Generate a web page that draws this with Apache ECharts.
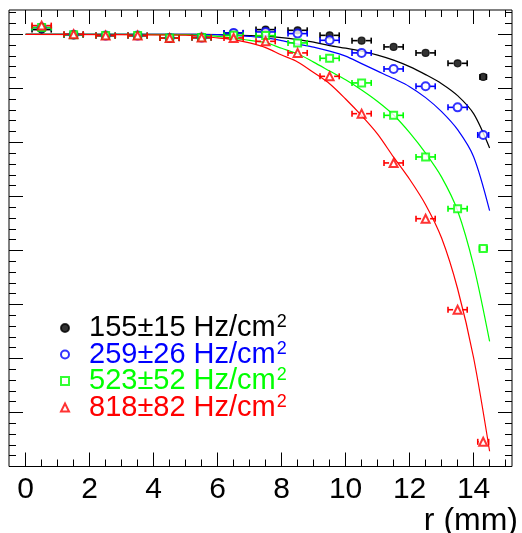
<!DOCTYPE html>
<html><head><meta charset="utf-8">
<script src="https://cdn.jsdelivr.net/npm/echarts@6/dist/echarts.min.js"></script>
<style>html,body{margin:0;padding:0;background:#fff}#c{width:522px;height:533px}</style>
</head><body><div id="c"></div>
<script>
// ---- data ----
const rPoints = [0.5,1.5,2.5,3.5,4.5,5.5,6.5,7.5,8.5,9.5,10.5,11.5,12.5,13.5,14.3];
const errBlack = [0.3,0.3,0.3,0.3,0.3,0.3,0.3,0.3,0.3,0.3,0.3,0.3,0.3,0.3,0.1];
const errBlue  = [0.3,0.3,0.3,0.3,0.3,0.3,0.3,0.3,0.3,0.3,0.3,0.3,0.3,0.3,0.17];
const errGreen = [0.3,0.3,0.3,0.3,0.3,0.3,0.3,0.3,0.3,0.3,0.3,0.3,0.3,0.3,0.12];
const errRed   = [0.3,0.3,0.3,0.3,0.3,0.3,0.3,0.3,0.3,0.3,0.3,0.3,0.3,0.3,0.17];
const valBlack = [1.0087,0.9994,0.9976,0.9976,0.993,0.9939,1.0026,1.0087,1.0074,0.9981,0.9883,0.9767,0.9656,0.9463,0.9211];
const valBlue  = [1.0124,0.9994,0.9976,0.9976,0.993,0.9939,1.0026,1.0044,1.0013,0.9889,0.9656,0.9359,0.9037,0.8648,0.8137];
const valGreen = [1.0124,0.9994,0.9976,0.9976,0.993,0.9939,0.9981,0.9976,0.9841,0.9556,0.91,0.85,0.773,0.6772,0.6037];
const valRed   = [1.0161,1.0,0.9976,0.9976,0.993,0.9939,0.9933,0.987,0.9656,0.9222,0.8531,0.7619,0.6587,0.4902,0.2457];

const curveR     = [0,5,5.5,6,6.5,7,7.5,8,8.5,9,9.5,10,10.5,11,11.5,12,12.5,13,13.5,14,14.5];
const curveBlack = [1,1,1,0.9996,0.9985,0.9976,0.9963,0.9939,0.9902,0.9856,0.9791,0.9744,0.9689,0.9615,0.9522,0.9402,0.9254,0.9087,0.8865,0.8531,0.7896];
const curveBlue  = [1,1,0.9996,0.9994,0.9981,0.9961,0.9933,0.9883,0.9819,0.9763,0.9689,0.9596,0.9457,0.9319,0.9181,0.9031,0.8828,0.8569,0.8235,0.7735,0.6735];
const curveGreen = [1,0.9994,0.9985,0.9963,0.9931,0.9887,0.9846,0.9741,0.9639,0.9485,0.9322,0.9159,0.897,0.8757,0.8506,0.818,0.78,0.7356,0.6735,0.5717,0.4315];
const curveRed   = [1,0.9985,0.9963,0.9933,0.9902,0.9841,0.9754,0.9617,0.9489,0.9293,0.9085,0.8802,0.8494,0.8152,0.7726,0.7317,0.6846,0.6228,0.529,0.4013,0.2282];

const seriesNames = ['155±15 Hz/cm','259±26 Hz/cm','523±52 Hz/cm','818±82 Hz/cm'];
const seriesColors = ['#000000','#0000ff','#00ff00','#ff0000'];
const seriesSymbols = ['circle','emptyCircle','emptyRect','emptyTriangle'];
const xMajorTicks = [0,2,4,6,8,10,12,14];
const yMajorTicks = [0.2,0.3,0.4,0.5,0.6,0.7,0.8,0.9,1.0];

// ---- build ----
const FONT = "'Liberation Sans', Arial, Helvetica, sans-serif";
const xMinorTicks = [];
for (let i = 1; i <= 30; i++) { const v = i * 0.5; if (i % 4 !== 0) xMinorTicks.push(v); }
const yMinorTicks = [];
for (let i = 11; i <= 52; i++) { if (i % 5 !== 0) yMinorTicks.push(+(i * 0.02).toFixed(2)); }

const vals = [valBlack, valBlue, valGreen, valRed];
const errs = [errBlack, errBlue, errGreen, errRed];
const curves = [curveBlack, curveBlue, curveGreen, curveRed];
const symSizes = [7, 8, 7, 8];

const XMIN = -0.52, XMAX = 15.2, YMIN = 0.2, YMAX = 1.045;

function xAx(grid, pos, ticks, len, labels) {
  return {
    type: 'value', gridIndex: grid, position: pos, min: XMIN, max: XMAX,
    axisLine: {show: false, onZero: false}, splitLine: {show: false},
    axisTick: {show: true, inside: true, length: len, customValues: ticks, lineStyle: {color: '#000', width: 1}},
    axisLabel: labels ? {show: true, customValues: ticks, fontSize: 30, color: '#000', fontFamily: FONT, margin: 8} : {show: false}
  };
}
function yAx(grid, pos, ticks, len) {
  return {
    type: 'value', gridIndex: grid, position: pos, min: YMIN, max: YMAX,
    axisLine: {show: false, onZero: false}, splitLine: {show: false},
    axisTick: {show: true, inside: true, length: len, customValues: ticks, lineStyle: {color: '#000', width: 1}},
    axisLabel: {show: false}
  };
}

const xAxes = [
  xAx(0, 'bottom', xMajorTicks, 14, true),
  xAx(0, 'top', xMajorTicks, 14, false),
  xAx(1, 'bottom', xMinorTicks, 7, false),
  xAx(1, 'top', xMinorTicks, 7, false)
];
xAxes[0].name = 'r (mm)';
xAxes[0].nameLocation = 'end';
xAxes[0].nameGap = 6;
xAxes[0].nameTextStyle = {fontSize: 32, color: '#000', fontFamily: FONT, align: 'right', verticalAlign: 'top', padding: [39, 0, 0, 0]};

const yAxes = [
  yAx(0, 'left', yMajorTicks, 14),
  yAx(0, 'right', yMajorTicks, 14),
  yAx(1, 'left', yMinorTicks, 7),
  yAx(1, 'right', yMinorTicks, 7)
];

const series = [];
for (let k = 0; k < 4; k++) {
  const color = seriesColors[k];
  series.push({
    type: 'line', name: 'fit' + k, silent: true, showSymbol: false, smooth: 0.3,
    xAxisIndex: 0, yAxisIndex: 0,
    data: curveR.map((r, i) => [r, curves[k][i]]),
    lineStyle: {color: color, width: 1.2}, z: 2, animation: false
  });
}
for (let k = 0; k < 4; k++) {
  const color = seriesColors[k];
  const gap = symSizes[k] / 2 + 0.5;
  series.push({
    type: 'custom', name: 'err' + k, silent: true, z: 3, animation: false,
    xAxisIndex: 0, yAxisIndex: 0,
    data: rPoints.map((r, i) => [r, vals[k][i], errs[k][i]]),
    encode: {x: 0, y: 1},
    renderItem: function (params, api) {
      const x = api.value(0), y = api.value(1), e = api.value(2);
      const pc = api.coord([x, y]);
      const p0 = api.coord([x - e, y]);
      const p1 = api.coord([x + e, y]);
      const st = {stroke: color, lineWidth: 1.6};
      const ch = [];
      if (pc[0] - gap > p0[0]) ch.push({type: 'line', shape: {x1: p0[0], y1: pc[1], x2: pc[0] - gap, y2: pc[1]}, style: st});
      if (pc[0] + gap < p1[0]) ch.push({type: 'line', shape: {x1: pc[0] + gap, y1: pc[1], x2: p1[0], y2: pc[1]}, style: st});
      ch.push({type: 'line', shape: {x1: p0[0], y1: pc[1] - 3, x2: p0[0], y2: pc[1] + 3}, style: st});
      ch.push({type: 'line', shape: {x1: p1[0], y1: pc[1] - 3, x2: p1[0], y2: pc[1] + 3}, style: st});
      return {type: 'group', children: ch};
    }
  });
}
for (let k = 0; k < 4; k++) {
  series.push({
    type: 'scatter', name: seriesNames[k], symbol: seriesSymbols[k], symbolSize: symSizes[k],
    xAxisIndex: 0, yAxisIndex: 0,
    data: rPoints.map((r, i) => [r, vals[k][i]]),
    itemStyle: {color: seriesColors[k], borderColor: seriesColors[k], borderWidth: 1.2},
    z: 4, animation: false
  });
}

const legendTops = [313.5, 340, 366.5, 393];
const legends = seriesNames.map((n, k) => ({
  data: [n], left: 60, top: legendTops[k], padding: 0, itemWidth: 8, itemHeight: 8, selectedMode: false,
  formatter: name => '{g| }{a|' + name + '}{s|2}',
  textStyle: {
    color: seriesColors[k], fontSize: 29, fontFamily: FONT,
    rich: {
      g: {width: 15},
      a: {fontSize: 29, fontFamily: FONT, color: seriesColors[k]},
      s: {fontSize: 18, fontFamily: FONT, color: seriesColors[k], verticalAlign: 'top', padding: [0, 0, 0, 1]}
    }
  }
}));

const gridRect = {left: 9, top: 10, width: 503, height: 456.5, containLabel: false, outerBoundsMode: 'none'};
const chart = echarts.init(document.getElementById('c'), null, {renderer: 'canvas'});
chart.setOption({
  backgroundColor: '#fff',
  animation: false,
  grid: [
    Object.assign({show: true, borderColor: '#000', borderWidth: 1, backgroundColor: 'transparent'}, gridRect),
    Object.assign({show: false}, gridRect)
  ],
  xAxis: xAxes,
  yAxis: yAxes,
  legend: legends,
  series: series
});
</script>
</body></html>
